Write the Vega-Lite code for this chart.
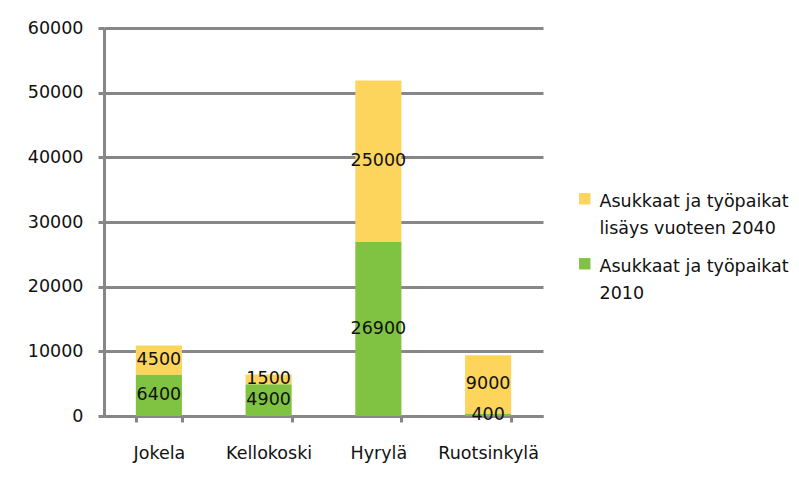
{
  "$schema": "https://vega.github.io/schema/vega-lite/v6.json",
  "autosize": {"type": "none"},
  "padding": {"left": 104, "top": 28, "right": 256, "bottom": 62},
  "width": 439,
  "height": 388,
  "background": "white",
  "config": {
    "view": {"stroke": null},
    "font": "DejaVu Sans",
    "axis": {"labelFont": "DejaVu Sans", "labelFontSize": 17.5, "labelColor": "#111111"},
    "legend": {"labelFont": "DejaVu Sans", "labelFontSize": 17.5, "labelColor": "#111111"}
  },
  "data": {
    "values": [
      {"alue": "Jokela", "sarja": "Asukkaat ja työpaikat 2010", "arvo": 6400},
      {"alue": "Jokela", "sarja": "Asukkaat ja työpaikat lisäys vuoteen 2040", "arvo": 4500},
      {"alue": "Kellokoski", "sarja": "Asukkaat ja työpaikat 2010", "arvo": 4900},
      {"alue": "Kellokoski", "sarja": "Asukkaat ja työpaikat lisäys vuoteen 2040", "arvo": 1500},
      {"alue": "Hyrylä", "sarja": "Asukkaat ja työpaikat 2010", "arvo": 26900},
      {"alue": "Hyrylä", "sarja": "Asukkaat ja työpaikat lisäys vuoteen 2040", "arvo": 25000},
      {"alue": "Ruotsinkylä", "sarja": "Asukkaat ja työpaikat 2010", "arvo": 400},
      {"alue": "Ruotsinkylä", "sarja": "Asukkaat ja työpaikat lisäys vuoteen 2040", "arvo": 9000}
    ]
  },
  "transform": [
    {"stack": "arvo", "groupby": ["alue"], "sort": [{"field": "sarja", "order": "ascending"}], "as": ["y0", "y1"]},
    {"calculate": "(datum.y0 + datum.y1) / 2", "as": "ymid"}
  ],
  "encoding": {
    "x": {
      "field": "alue",
      "type": "nominal",
      "sort": ["Jokela", "Kellokoski", "Hyrylä", "Ruotsinkylä"],
      "scale": {"paddingInner": 0.58, "paddingOuter": 0.29},
      "axis": {
        "title": null,
        "labelAngle": 0,
        "domainColor": "#878787",
        "domainWidth": 3,
        "tickColor": "#878787",
        "tickWidth": 3,
        "tickSize": 6,
        "tickBand": "extent",
        "labelPadding": 22
      }
    }
  },
  "layer": [
    {
      "mark": {"type": "bar"},
      "encoding": {
        "y": {
          "field": "y0",
          "type": "quantitative",
          "scale": {"domain": [0, 60000]},
          "axis": {
            "title": null,
            "values": [0, 10000, 20000, 30000, 40000, 50000, 60000],
            "format": "d",
            "grid": true,
            "gridColor": "#878787",
            "gridWidth": 3,
            "domainColor": "#878787",
            "domainWidth": 3,
            "tickColor": "#878787",
            "tickWidth": 3,
            "tickSize": 6,
            "labelPadding": 15
          }
        },
        "y2": {"field": "y1"},
        "color": {
          "field": "sarja",
          "type": "nominal",
          "scale": {
            "domain": ["Asukkaat ja työpaikat lisäys vuoteen 2040", "Asukkaat ja työpaikat 2010"],
            "range": ["#FDD55C", "#80C342"]
          },
          "legend": {
            "title": null,
            "orient": "none",
            "legendX": 472,
            "legendY": 162,
            "symbolType": "square",
            "symbolSize": 130,
            "symbolStrokeWidth": 0,
            "rowPadding": 17,
            "labelOffset": 6,
            "labelBaseline": "alphabetic",
            "labelLimit": 300,
            "labelExpr": "datum.label == 'Asukkaat ja työpaikat 2010' ? ['Asukkaat ja työpaikat', '2010'] : ['Asukkaat ja työpaikat', 'lisäys vuoteen 2040']",
            "encode": {
              "labels": {"update": {"lineHeight": {"value": 27}, "dy": {"value": 8}}}
            }
          }
        }
      }
    },
    {
      "mark": {"type": "text", "fontSize": 17.5, "color": "#111111", "baseline": "middle"},
      "encoding": {
        "y": {"field": "ymid", "type": "quantitative"},
        "text": {"field": "arvo", "type": "quantitative", "format": "d"}
      }
    }
  ]
}
